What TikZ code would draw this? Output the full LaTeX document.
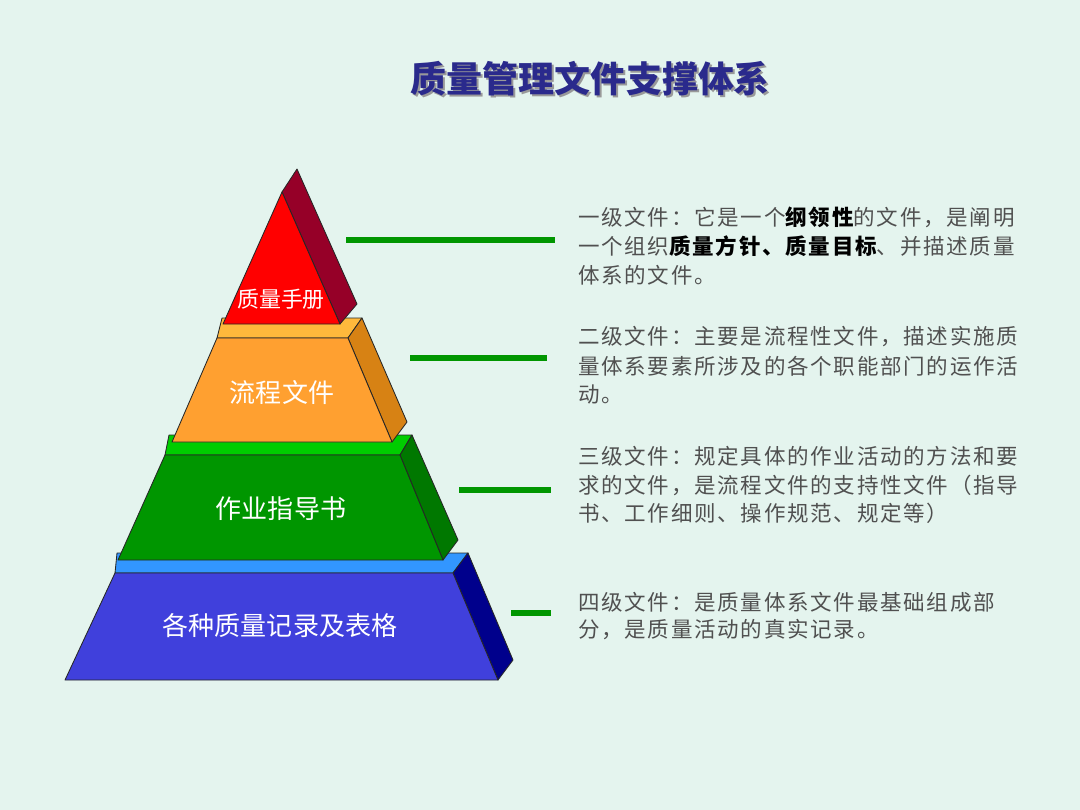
\documentclass[tikz,border=0pt]{standalone}
\usepackage{fontspec}
\newfontfamily\cjk{Noto Sans CJK SC}
\newfontfamily\cjkdesc[LetterSpace=8]{Noto Sans CJK SC}
\definecolor{bg}{RGB}{228,244,238}
\definecolor{titlecol}{RGB}{42,42,140}
\definecolor{redF}{RGB}{255,0,0}
\definecolor{redS}{RGB}{150,0,40}
\definecolor{orF}{RGB}{255,160,48}
\definecolor{orT}{RGB}{255,185,60}
\definecolor{orS}{RGB}{215,130,20}
\definecolor{grF}{RGB}{0,150,0}
\definecolor{grT}{RGB}{0,205,0}
\definecolor{grS}{RGB}{0,120,0}
\definecolor{blF}{RGB}{64,64,220}
\definecolor{blT}{RGB}{50,150,255}
\definecolor{blS}{RGB}{0,0,140}
\definecolor{linkcol}{RGB}{0,150,0}
\definecolor{desccol}{RGB}{80,80,80}
\tikzset{
  face/.style={draw=black!85, line width=0.6pt, line join=round},
  tierlabel/.style={text=white, font=\cjk\fontsize{18.5pt}{20pt}\selectfont, inner sep=0pt},
  link/.style={draw=linkcol, line width=4.3pt},
  desc/.style={anchor=west, inner sep=0pt, text=desccol, font=\cjkdesc\fontsize{15.3pt}{17pt}\selectfont},
}
\begin{document}
\begin{tikzpicture}[x=0.025cm,y=-0.025cm]
\fill[bg] (0,0) rectangle (1080,810);
\useasboundingbox (0,0) rectangle (1080,810);

% title
\node[text=black!40, font=\cjk\bfseries\fontsize{25.6pt}{28pt}\selectfont, inner sep=0pt] (titleshadow) at (592,81) {质量管理文件支撑体系};
\node[text=titlecol, font=\cjk\bfseries\fontsize{25.6pt}{28pt}\selectfont, inner sep=0pt] (title) at (590,79) {质量管理文件支撑体系};

% tier 4 (blue)
\filldraw[face, fill=blT] (115,573) -- (117,553) -- (468,553) -- (453,573) -- cycle;
\filldraw[face, fill=blS] (453,573) -- (468,553) -- (513,660) -- (498,680) -- cycle;
\filldraw[face, fill=blF] (115,573) -- (453,573) -- (498,680) -- (65,680) -- cycle;
% tier 3 (green)
\filldraw[face, fill=grT] (165,455) -- (169,435) -- (412,435) -- (400,455) -- cycle;
\filldraw[face, fill=grS] (400,455) -- (412,435) -- (458,540) -- (443,560) -- cycle;
\filldraw[face, fill=grF] (165,455) -- (400,455) -- (443,560) -- (118,560) -- cycle;
% tier 2 (orange)
\filldraw[face, fill=orT] (217,338) -- (222,318) -- (362,318) -- (348,338) -- cycle;
\filldraw[face, fill=orS] (348,338) -- (362,318) -- (407,422) -- (392,442) -- cycle;
\filldraw[face, fill=orF] (217,338) -- (348,338) -- (392,442) -- (172,442) -- cycle;
% tier 1 (red)
\filldraw[face, fill=redS] (282,192) -- (297,169) -- (357,304) -- (340,324) -- cycle;
\filldraw[face, fill=redF] (282,192) -- (340,324) -- (223,324) -- cycle;

% tier labels
\node[tierlabel, font=\cjk\fontsize{15.6pt}{17pt}\selectfont] (t1) at (281,299) {质量手册};
\node[tierlabel] (t2) at (282,393) {流程文件};
\node[tierlabel] (t3) at (281,509) {作业指导书};
\node[tierlabel] (t4) at (280,626) {各种质量记录及表格};

% descriptions
\node[desc] (d1a) at (578,217) {一级文件：它是一个{\bfseries\color{black}纲领性}的文件，是阐明};
\node[desc] (d1b) at (578,246) {一个组织{\bfseries\color{black}质量方针、质量目标}、并描述质量};
\node[desc] (d1c) at (578,275) {体系的文件。};
\node[desc] (d2a) at (578,337) {二级文件：主要是流程性文件，描述实施质};
\node[desc] (d2b) at (578,366) {量体系要素所涉及的各个职能部门的运作活};
\node[desc] (d2c) at (578,394) {动。};
\node[desc] (d3a) at (578,456) {三级文件：规定具体的作业活动的方法和要};
\node[desc] (d3b) at (578,485) {求的文件，是流程文件的支持性文件（指导};
\node[desc] (d3c) at (578,513) {书、工作细则、操作规范、规定等）};
\node[desc] (d4a) at (578,602) {四级文件：是质量体系文件最基础组成部};
\node[desc] (d4b) at (578,630) {分，是质量活动的真实记录。};

% connectors
\coordinate (l1s) at (346,240); \coordinate (l1e) at (555,240);
\coordinate (l2s) at (410,358); \coordinate (l2e) at (547,358);
\coordinate (l3s) at (459,490); \coordinate (l3e) at (551,490);
\coordinate (l4s) at (511,613); \coordinate (l4e) at (551,613);
\draw[link] (l1s) -- (l1e);
\draw[link] (l2s) -- (l2e);
\draw[link] (l3s) -- (l3e);
\draw[link] (l4s) -- (l4e);
\end{tikzpicture}
\end{document}
